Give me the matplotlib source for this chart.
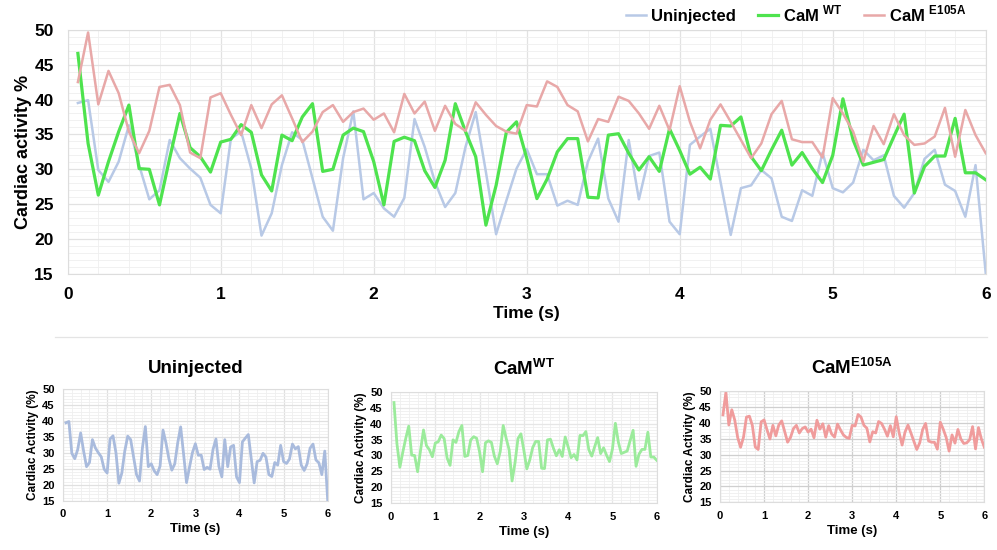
import matplotlib
matplotlib.use("Agg")
import matplotlib.pyplot as plt
import numpy as np
from matplotlib.lines import Line2D
from matplotlib.ticker import MultipleLocator

plt.rcParams["font.family"] = ["Liberation Sans", "DejaVu Sans"]
plt.rcParams["mathtext.fontset"] = "custom"
plt.rcParams["mathtext.rm"] = "Liberation Sans"
plt.rcParams["mathtext.bf"] = "Liberation Sans:bold"

# samples every 1/15 s from 0.067 s to 6 s
time_s = np.arange(1, 91) / 15.0

uninjected = [
    39.5, 39.9, 29.9, 28.2, 31.1, 36.3, 30.6, 25.7, 27.0, 34.2,
    31.6, 30.1, 28.8, 24.9, 23.7, 34.4, 35.4, 30.1, 20.5, 23.7,
    30.6, 35.3, 34.2, 28.7, 23.2, 21.2, 31.6, 38.3, 25.7, 26.6,
    24.4, 23.2, 25.9, 37.2, 33.2, 28.2, 24.6, 26.6, 33.2, 38.2,
    29.6, 20.7, 25.5, 30.1, 32.9, 29.3, 29.3, 24.8, 25.5, 24.9,
    31.1, 34.4, 25.8, 22.5, 34.2, 25.7, 31.9, 32.4, 22.5, 20.7,
    33.5, 34.7, 35.8, 28.2, 20.6, 27.3, 27.7, 29.9, 28.7, 23.2,
    22.6, 27.0, 26.2, 32.4, 27.3, 26.7, 28.1, 32.8, 31.3, 32.0,
    26.2, 24.5, 26.6, 31.5, 32.8, 27.8, 26.9, 23.2, 30.6, 15.1,
]

cam_wt = [
    46.6, 33.7, 26.3, 31.1, 35.4, 39.2, 30.1, 30.0, 24.9, 31.6,
    38.0, 33.1, 31.8, 29.6, 33.9, 34.3, 36.4, 35.3, 29.2, 26.9,
    34.9, 34.1, 37.5, 39.4, 29.7, 30.0, 34.9, 35.9, 35.4, 31.1,
    24.9, 34.0, 34.6, 34.1, 29.8, 27.4, 31.3, 39.4, 35.4, 31.8,
    22.0, 27.7, 35.3, 36.8, 31.6, 25.8, 28.6, 32.5, 34.4, 34.4,
    26.0, 25.9, 34.9, 35.1, 32.3, 29.9, 31.8, 29.7, 35.8, 32.7,
    29.3, 30.3, 28.6, 36.3, 36.2, 37.5, 31.8, 29.8, 32.8, 35.6,
    30.6, 32.4, 30.1, 28.1, 32.0, 40.1, 34.2, 30.6, 31.0, 31.4,
    34.7, 37.9, 26.6, 30.4, 31.9, 31.9, 37.3, 29.5, 29.5, 28.5,
]

cam_e105a = [
    42.5, 49.6, 39.3, 44.1, 40.9, 35.4, 32.3, 35.5, 41.8, 42.1,
    39.2, 32.4, 31.6, 40.3, 40.9, 37.8, 34.9, 39.2, 35.9, 39.3,
    40.6, 37.3, 33.9, 35.4, 38.2, 39.2, 36.8, 38.2, 38.7, 37.1,
    38.0, 35.3, 40.8, 38.0, 39.7, 35.5, 39.1, 36.5, 35.5, 39.6,
    37.8, 36.2, 35.4, 35.1, 39.2, 39.0, 42.6, 41.8, 39.2, 38.3,
    34.0, 37.2, 36.8, 40.4, 39.8, 38.0, 35.8, 39.1, 35.6, 41.9,
    36.8, 33.0, 37.1, 39.3, 36.8, 34.2, 31.6, 33.7, 37.9, 39.8,
    34.3, 33.9, 33.9, 31.7, 40.2, 38.0, 35.4, 31.1, 36.2, 33.6,
    37.9, 34.9, 33.5, 33.7, 34.7, 38.8, 31.8, 38.5, 34.9, 32.3,
]

top_colors = ["#b8c9e6", "#4ee34e", "#e8a8a8"]
top_widths = [1.8, 2.3, 1.8]
panel_colors = ["#a9bbdd", "#9beb9b", "#f09c9c"]
legend_labels = ["Uninjected", r"CaM $^{\mathbf{WT}}$", r"CaM $^{\mathbf{E105A}}$"]
panel_titles = ["Uninjected", r"CaM$^{\mathbf{WT}}$", r"CaM$^{\mathbf{E105A}}$"]
series = [uninjected, cam_wt, cam_e105a]


def style_axes(ax, tick_size, major_grid="#dcdcdc"):
    ax.set_xlim(0, 6)
    ax.set_ylim(15, 50)
    ax.xaxis.set_major_locator(MultipleLocator(1))
    ax.xaxis.set_minor_locator(MultipleLocator(0.2))
    ax.yaxis.set_major_locator(MultipleLocator(5))
    ax.yaxis.set_minor_locator(MultipleLocator(1))
    ax.grid(which="major", color=major_grid, lw=0.9)
    ax.grid(which="minor", color="#efefef", lw=0.6)
    ax.set_axisbelow(True)
    ax.tick_params(which="both", length=0, labelsize=tick_size)
    for lab in ax.get_xticklabels() + ax.get_yticklabels():
        lab.set_fontweight("bold")
    for sp in ax.spines.values():
        sp.set_color("#dddddd")
        sp.set_linewidth(0.8)


fig = plt.figure(figsize=(9.97, 5.5), dpi=100)

ax = fig.add_axes([0.0679, 0.5018, 0.9208, 0.4442])
for vals, col, lw, lab in zip(series, top_colors, top_widths, legend_labels):
    ax.plot(time_s, vals, color=col, lw=lw, label=lab)
style_axes(ax, 12.5, major_grid="#e2e2e2")
ax.tick_params(axis="x", pad=9)
ax.tick_params(axis="y", pad=10)
ax.set_xlabel("Time (s)", fontsize=12.5, fontweight="bold", labelpad=3)
ax.set_ylabel("Cardiac activity %", fontsize=13, fontweight="bold", labelpad=2)
ax.legend(loc="lower right", bbox_to_anchor=(0.986, 0.995), ncol=3, frameon=False,
          prop={"weight": "bold", "size": 12}, handlelength=1.2,
          handletextpad=0.3, columnspacing=1.3, borderaxespad=0.0)

fig.add_artist(Line2D([0.055, 0.99], [0.387, 0.387], color="#e4e4e4", lw=0.9,
                      transform=fig.transFigure))

panel_rects = [
    [0.0632, 0.0896, 0.2655, 0.2025],
    [0.3922, 0.0849, 0.2665, 0.2029],
    [0.7222, 0.0867, 0.2651, 0.2024],
]
panel_grid = ["#e0e0e0", "#e6e6e6", "#cfcfcf"]
for rect, vals, col, title, gcol in zip(panel_rects, series, panel_colors, panel_titles, panel_grid):
    pax = fig.add_axes(rect)
    pax.plot(time_s, vals, color=col, lw=2.0)
    style_axes(pax, 8, major_grid=gcol)
    pax.tick_params(axis="x", pad=6)
    pax.tick_params(axis="y", pad=6)
    pax.set_xlabel("Time (s)", fontsize=9.5, fontweight="bold", labelpad=3)
    pax.set_ylabel("Cardiac Activity (%)", fontsize=8.5, fontweight="bold", labelpad=2)
    pax.set_title(title, fontsize=13.5, fontweight="bold", pad=12)

fig.savefig("out.png", dpi=100)
